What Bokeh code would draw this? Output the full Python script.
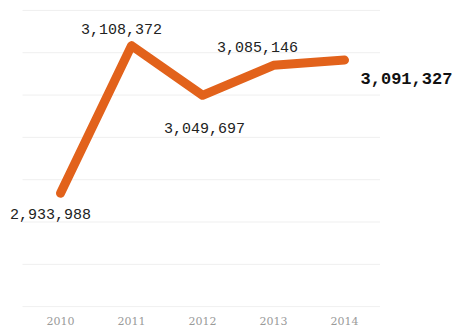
from bokeh.plotting import figure
from bokeh.models import ColumnDataSource, FixedTicker, Range1d
from bokeh.core.properties import value
from bokeh.embed import file_html
from bokeh.resources import INLINE

years = [2010, 2011, 2012, 2013, 2014]
values = [2933988, 3108372, 3049697, 3085146, 3091327]
labels = ["2,933,988", "3,108,372", "3,049,697", "3,085,146", "3,091,327"]
year_labels = ["2010", "2011", "2012", "2013", "2014"]
grid_values = [2800000, 2850000, 2900000, 2950000, 3000000, 3050000, 3100000, 3150000]

# label offsets in screen pixels (style)
label_dx = [-10, -10, 2, -16, 16]
label_dy = [21, -17, 33, -18, 18]

p = figure(width=456, height=327, output_backend="svg", toolbar_location=None,
           x_range=Range1d(2009.155, 2015.577), y_range=Range1d(2799000, 3161700),
           min_border_left=0, min_border_right=0, min_border_top=0, min_border_bottom=20)
p.outline_line_color = None
p.background_fill_color = "white"
p.border_fill_color = "white"
p.yaxis.visible = False
p.xgrid.visible = False
p.ygrid.visible = False

# horizontal guide lines spanning the data area
p.segment(x0=[2009.465] * len(grid_values), x1=[2014.5] * len(grid_values),
          y0=grid_values, y1=grid_values, line_color="#efefef", line_width=1)

p.xaxis.ticker = FixedTicker(ticks=years)
p.xaxis.major_label_overrides = {y: l for y, l in zip(years, year_labels)}
p.xaxis.axis_line_color = None
p.xaxis.major_tick_line_color = None
p.xaxis.minor_tick_line_color = None
p.xaxis.major_tick_out = 0
p.xaxis.major_label_standoff = 9
p.xaxis.major_label_text_font = "DejaVu Serif"
p.xaxis.major_label_text_font_size = "11px"
p.xaxis.major_label_text_color = "#9a9a9a"

p.line(years, values, line_color="#e2621b", line_width=9, line_cap="round", line_join="round")

src = ColumnDataSource(dict(x=years[:4], y=values[:4], t=labels[:4], dx=label_dx[:4], dy=label_dy[:4]))
p.text("x", "y", text="t", x_offset="dx", y_offset="dy", source=src,
       text_font=value("Liberation Mono"), text_font_size="15px", text_color="#222222",
       text_align="center", text_baseline="middle")

src2 = ColumnDataSource(dict(x=years[4:], y=values[4:], t=labels[4:], dx=label_dx[4:], dy=label_dy[4:]))
p.text("x", "y", text="t", x_offset="dx", y_offset="dy", source=src2,
       text_font=value("Liberation Mono"), text_font_size="17px", text_font_style="bold",
       text_color="#111111", text_align="left", text_baseline="middle")

open("out.html", "w").write(file_html(p, INLINE))
